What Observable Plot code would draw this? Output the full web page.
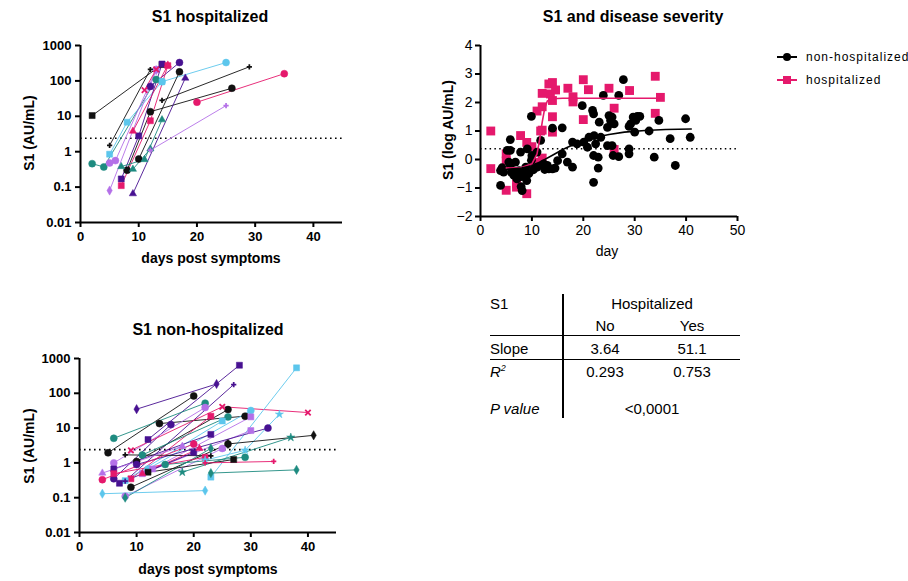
<!DOCTYPE html>
<html><head><meta charset="utf-8">
<script src="https://cdn.jsdelivr.net/npm/d3@7"></script>
<script src="https://cdn.jsdelivr.net/npm/@observablehq/plot@0.6"></script>
<style>
body{margin:0;background:#fff;}
#root{position:relative;width:908px;height:581px;overflow:hidden;font-family:"Liberation Sans",Arial,Helvetica,sans-serif;color:#000;}
#root svg{position:absolute;overflow:visible;}
</style></head><body><div id="root"></div>
<script>
// ---------- DATA ----------
// Hospitalized subjects: [id, colour, symbol]
const hospSeries = [
 ["h1","black","square"],["h2","black","cross"],["h3","cyan","square"],["h4","cyan","circle"],
 ["h5","teal","circle"],["h6","lpurple","circle"],["h7","lpurple","diamond"],["h8","dpurple","square"],
 ["h9","dpurple","circle"],["h10","pink","square"],["h11","pink","triangle"],["h12","pink","times"],
 ["h13","black","circle"],["h14","black","circle"],["h15","dpurple","triangle"],["h16","teal","triangle"],
 ["h17","teal","triangle"],["h18","pink","circle"],["h19","black","cross"],["h20","lpurple","cross"]
];
// [id, day, S1 AU/mL]
const hospPoints = [
 ["h1",2,10.5],["h1",14,290],
 ["h2",5,1.5],["h2",12,210],
 ["h3",5,0.85],["h3",8,6.8],["h3",14,95],
 ["h4",14,95],["h4",25,330],
 ["h5",2,0.46],["h5",4,0.37],["h5",13,110],
 ["h6",5,0.48],["h6",6,0.56],["h6",13,210],
 ["h7",5,0.08],["h7",13,200],
 ["h8",7,0.17],["h8",10,2.8],["h8",14,300],
 ["h9",12,70],["h9",17,330],
 ["h10",7,0.11],["h10",12,7.5],["h10",15,270],
 ["h11",9,3.8],["h11",15,280],
 ["h12",11,55],["h12",13,210],
 ["h13",8,0.3],["h13",12,13.5],["h13",26,62],
 ["h14",10,0.62],["h14",17,180],
 ["h15",9,0.065],["h15",18,120],
 ["h16",7,0.38],["h16",11,0.6],["h16",14,8],
 ["h17",9,0.32],["h17",12,1.2],
 ["h18",20,25],["h18",35,160],
 ["h19",14,28],["h19",29,250],
 ["h20",12,1.1],["h20",25,20]
];
// Non-hospitalized subjects
const nonHospSeries = [
 ["n1","dpurple","square"],["n2","dpurple","diamond"],["n3","dpurple","cross"],["n4","black","circle"],
 ["n5","teal","circle"],["n6","black","circle"],["n7","dpurple","circle"],["n8","lpurple","circle"],
 ["n9","pink","times"],["n10","black","circle"],["n11","cyan","circle"],["n12","pink","square"],
 ["n13","teal","circle"],["n14","lpurple","square"],["n15","cyan","square"],["n16","cyan","star"],
 ["n17","cyan","square"],["n18","lpurple","square"],["n19","dpurple","circle"],["n20","dpurple","square"],
 ["n21","black","diamond"],["n22","black","circle"],["n23","teal","star"],["n24","lpurple","circle"],
 ["n25","teal","diamond"],["n26","teal","circle"],["n27","black","square"],["n28","pink","square"],
 ["n29","black","cross"],["n30","pink","cross"],["n31","teal","diamond"],["n32","cyan","diamond"],
 ["n33","pink","circle"],["n34","lpurple","triangle"],["n35","pink","triangle"],["n36","dpurple","square"]
];
const nonHospPoints = [
 ["n1",12,4.7],["n1",28,640],
 ["n2",10,35],["n2",24,185],
 ["n3",8,0.3],["n3",27,178],
 ["n4",5,1.95],["n4",20,84],
 ["n5",6,5.1],["n5",22,52],
 ["n6",14,13.5],["n6",29,22],
 ["n7",6,0.35],["n7",16,12.6],
 ["n8",6,1.0],["n8",22,39],
 ["n9",9,2.3],["n9",25,41],["n9",40,28],
 ["n10",10,1.1],["n10",26,34],
 ["n11",12,0.67],["n11",30,32],
 ["n12",9,0.35],["n12",23,22],
 ["n13",11,1.7],["n13",26,21],
 ["n14",12.8,0.67],["n14",30,21],
 ["n15",8,0.31],["n15",25,16],
 ["n16",22,1.2],["n16",29,2.3],["n16",35,25],
 ["n17",23,0.39],["n17",38,540],
 ["n18",11,0.49],["n18",30,8.5],
 ["n19",10,0.9],["n19",33,10],
 ["n20",6,0.67],["n20",23,6.6],
 ["n21",26,3.5],["n21",41,6.2],
 ["n22",9,0.2],["n22",26,3.5],
 ["n23",18,0.54],["n23",37,5.4],
 ["n24",8,0.11],["n24",25,2.6],
 ["n25",8,0.1],["n25",23,2.6],
 ["n26",15,0.9],["n26",29,1.45],
 ["n27",12,0.54],["n27",27,1.25],
 ["n28",6,0.49],["n28",22,1.45],
 ["n29",8,1.7],["n29",23,1.6],
 ["n30",22,1.0],["n30",34,1.1],
 ["n31",23,0.51],["n31",38,0.63],
 ["n32",4,0.13],["n32",22,0.16],
 ["n33",4,0.33],["n33",20,3.5],
 ["n34",4,0.51],["n34",18,3],
 ["n35",11,0.49],["n35",21,2.6],
 ["n36",7,0.26],["n36",20,2]
];
const cutoffAU = 2.4;      // dotted positivity line (AU/mL)
const cutoffLog = 0.38;    // dotted line on log panel
// Disease severity panel: [day, log S1]
const hospScatter = [
 [2,1.0],[2,-0.32],[5,0.2],[5,-0.05],[5,-1.08],[7,-0.85],[7,-0.97],[7.8,0.84],[9,0.6],[9,-1.2],
 [10,0.45],[10.4,-0.2],[11,-0.1],[11,1.7],[11.7,1.0],[12,0.05],[12,1.03],[12,1.85],[12,2.32],[13.3,2.65],
 [13.6,2.3],[14,2.07],[14,1.5],[14,0.96],[14,2.7],[14.6,2.44],[17,2.5],[18,2.2],[18,2.02],[20,2.8],
 [20,1.4],[21,2.45],[25,2.5],[26,1.8],[26,0.35],[29,2.42],[34,2.92],[34,1.62],[35,2.18]
];
const nonHospScatter = [
 [3.9,-0.91],[3.9,-0.39],[4.2,-0.29],[4.5,-0.44],[5.2,0.32],[5.5,-0.09],[5.8,0.7],[5.8,0.32],[5.8,-0.21],[6.2,-0.39],
 [6.5,-0.56],[6.8,-0.09],[7.1,-0.68],[7.5,-0.39],[7.8,0.26],[7.9,-0.95],[8.1,-1.09],[8.4,-0.5],[8.8,-0.27],[9,-0.74],
 [9.1,0.37],[9.4,-0.5],[9.9,1.51],[9.9,-0.03],[10,0.14],[10.3,-0.36],[11,0.26],[11,-0.27],[11.7,0.67],[12,-0.21],
 [12.3,-0.15],[13,-0.21],[13.3,-0.33],[14,1.1],[14,-0.33],[15,-0.04],[15.9,0.2],[15.9,1.11],[16.9,-0.09],[17.9,-0.27],
 [17.9,0.61],[18.8,0.55],[19.8,1.89],[20.1,0.61],[20.8,0.43],[21.1,0.78],[21.8,1.72],[22,1.6],[22,0.14],[22,-0.8],
 [22.1,0.84],[22.4,0.55],[22.9,-0.3],[22.9,0.08],[23.1,1.31],[23.4,0.78],[23.9,2.25],[24.7,1.13],[24.7,0.49],[25,1.54],
 [25.3,1.37],[25.6,1.49],[25.6,0.49],[25.8,0.14],[26,1.25],[26.9,0.1],[26.9,2.25],[27.8,2.8],[28.9,1.16],[28.9,0.37],
 [28.9,0.2],[29.2,1.25],[29.7,1.49],[30,0.96],[30.2,1.37],[30.5,1.51],[31,1.51],[32.8,1.0],[33.8,0.08],[34.7,1.37],
 [36.9,0.73],[37.9,-0.21],[39.9,1.43],[40.8,0.78],[8,-0.6],[6,-0.45],[12.5,-0.35],[14.5,-0.3]
];
// Fitted curves
const hospFit = [[5,-0.3],[8,-0.28],[10,-0.15],[11,0.2],[11.5,0.7],[12,1.3],[12.5,1.8],[13,2.05],[14,2.13],[16,2.15],[35,2.15]];
const nonHospFit = [[5,-0.35],[8,-0.3],[10,-0.22],[12,-0.05],[14,0.15],[16,0.35],[18,0.52],[20,0.65],[22,0.76],[25,0.88],[28,0.96],[32,1.02],[36,1.05],[41,1.07]];
// Tick labels
const logTicks = [0.01,0.1,1,10,100,1000];
const dayTicks = [0,10,20,30,40];
const sevXTicks = [0,10,20,30,40,50];
const sevYTicks = [-2,-1,0,1,2,3,4];
// Table
const tableCols = ["No","Yes"];
const slopeVals = ["3.64","51.1"];
const r2Vals = ["0.293","0.753"];
const pValue = "<0,0001";

// ---------- DRAWING ----------
const COLORS = {black:"#111111", pink:"#E5196C", dpurple:"#471191", lpurple:"#B470E8", cyan:"#5CC6EC", teal:"#1E8B80"};
const SYMBOL_R = {circle:3.5, square:3.4, diamond:2.8, triangle:2.7, star:2.6, times:2.6, cross:2.2};
const FONT = '"Liberation Sans", Arial, Helvetica, sans-serif';
const root = document.getElementById("root");

function put(svg, left, top){ svg.style.left = left+"px"; svg.style.top = top+"px"; root.appendChild(svg); }
function text(t, x, y, o={}){
  const d = document.createElement("div");
  d.textContent = t;
  d.style.cssText = `position:absolute;left:${x}px;top:${y}px;transform:translate(-50%,-50%)${o.rotate?" rotate(-90deg)":""};font-size:${o.size||14}px;font-weight:${o.bold===false?"normal":"bold"};white-space:nowrap;line-height:1;font-style:${o.italic?"italic":"normal"};letter-spacing:${o.ls||0}px;font-family:${FONT}`;
  root.appendChild(d); return d;
}

function logPanel(points, series, dims){
  const st = new Map(series.map(([id,c,s]) => [id,{c:COLORS[c], s}]));
  const rows = points.map(([id,day,v]) => ({id, day, v, color: st.get(id).c, symbol: st.get(id).s}));
  const dotMarks = Object.keys(SYMBOL_R).map(sym => {
    const strokeOnly = sym === "times";
    return Plot.dot(rows, {filter: d => d.symbol === sym, x: "day", y: "v", symbol: "symbol",
      fill: strokeOnly ? "none" : "color",
      stroke: sym === "cross" ? null : "color", strokeWidth: strokeOnly ? 1.8 : 0.5, r: SYMBOL_R[sym]});
  });
  return Plot.plot({
    width: dims.w, height: dims.h, marginLeft: dims.ml, marginRight: dims.mr, marginTop: dims.mt, marginBottom: dims.mb,
    style: {fontFamily: FONT, background: "transparent", color: "#000", overflow: "visible"},
    x: {domain: [0,45]},
    y: {type: "log", domain: [0.01,1000]},
    color: {type: "identity"},
    symbol: {type: "identity"},
    marks: [
      Plot.ruleY([cutoffAU], {stroke: "#000", strokeWidth: 1.6, strokeDasharray: "1.6,3.4"}),
      Plot.line(rows, {x: "day", y: "v", z: "id", stroke: "color", strokeWidth: 0.9}),
      ...dotMarks,
      Plot.ruleX([0], {strokeWidth: 2}),
      Plot.ruleY([0.01], {strokeWidth: 2}),
      Plot.axisX({ticks: dayTicks, tickSize: 5, strokeWidth: 2, fontSize: 13, fontWeight: "bold", tickPadding: 4, label: null}),
      Plot.axisY({ticks: logTicks, tickFormat: d3.format("~g"), tickSize: 5, strokeWidth: 2, fontSize: 13, fontWeight: "bold", tickPadding: 4, label: null})
    ]
  });
}

// Top-left: hospitalized
put(logPanel(hospPoints, hospSeries, {w: 360, h: 250, ml: 80, mr: 18, mt: 45, mb: 28}), 0, 0);
text("S1 hospitalized", 210, 17, {size: 16});
text("S1 (AU/mL)", 29, 133, {rotate: true, size: 14});
text("days post symptoms", 211, 258, {size: 14});

// Bottom-left: non-hospitalized
put(logPanel(nonHospPoints, nonHospSeries, {w: 360, h: 250, ml: 79, mr: 24, mt: 48, mb: 28}), 0, 310);
text("S1 non-hospitalized", 208, 330, {size: 16});
text("S1 (AU/mL)", 29, 446, {rotate: true, size: 14});
text("days post symptoms", 208, 569, {size: 14});

// Top-right: disease severity
const sev = Plot.plot({
  width: 330, height: 250, marginLeft: 60, marginRight: 13, marginTop: 45, marginBottom: 34,
  style: {fontFamily: FONT, background: "transparent", color: "#000", overflow: "visible"},
  x: {domain: [0,50]},
  y: {domain: [-2,4]},
  marks: [
    Plot.ruleY([cutoffLog], {stroke: "#000", strokeWidth: 1.5, strokeDasharray: "1.5,3.3"}),
    Plot.dot(hospScatter, {x: d => d[0], y: d => d[1], symbol: "square", fill: COLORS.pink, r: 5}),
    Plot.dot(nonHospScatter, {x: d => d[0], y: d => d[1], fill: "#000", r: 4.4}),
    Plot.line(hospFit, {x: d => d[0], y: d => d[1], stroke: COLORS.pink, strokeWidth: 1.6}),
    Plot.line(nonHospFit, {x: d => d[0], y: d => d[1], stroke: "#000", strokeWidth: 1.6}),
    Plot.ruleX([0], {strokeWidth: 2}),
    Plot.ruleY([-2], {strokeWidth: 2}),
    Plot.axisX({ticks: sevXTicks, tickFormat: d3.format("d"), tickSize: 5, strokeWidth: 2, fontSize: 14, tickPadding: 4, label: null}),
    Plot.axisY({ticks: sevYTicks, tickFormat: d3.format("d"), tickSize: 5, strokeWidth: 2, fontSize: 14, tickPadding: 3, label: null})
  ]
});
put(sev, 420, 0);
text("S1 and disease severity", 633, 17, {size: 16});
text("S1 (log AU/mL)", 448, 130, {rotate: true, size: 14});
text("day", 607, 251, {size: 14, bold: false});

// Legend
function legendRow(color, shape, label, y){
  const ns = "http://www.w3.org/2000/svg";
  const s = document.createElementNS(ns, "svg");
  s.setAttribute("width", 22); s.setAttribute("height", 12);
  s.style.left = "776px"; s.style.top = (y-6)+"px";
  const l = document.createElementNS(ns, "line");
  l.setAttribute("x1", 1); l.setAttribute("x2", 21); l.setAttribute("y1", 6); l.setAttribute("y2", 6);
  l.setAttribute("stroke", color); l.setAttribute("stroke-width", 2);
  s.appendChild(l);
  if (shape === "circle") { const c = document.createElementNS(ns, "circle"); c.setAttribute("cx", 11); c.setAttribute("cy", 6); c.setAttribute("r", 4); c.setAttribute("fill", color); s.appendChild(c); }
  else { const r = document.createElementNS(ns, "rect"); r.setAttribute("x", 7); r.setAttribute("y", 2); r.setAttribute("width", 8); r.setAttribute("height", 8); r.setAttribute("fill", color); s.appendChild(r); }
  root.appendChild(s);
  const t = text(label, 0, y, {size: 12, bold: false, ls: 1});
  t.style.transform = "translate(0,-50%)"; t.style.left = "806px";
}
legendRow("#000", "circle", "non-hospitalized", 57);
legendRow(COLORS.pink, "square", "hospitalized", 80);

// Table
function hline(x1, x2, y){ const d = document.createElement("div"); d.style.cssText = `position:absolute;left:${x1}px;top:${y}px;width:${x2-x1}px;height:1px;background:#000`; root.appendChild(d); }
function vline(x, y1, y2){ const d = document.createElement("div"); d.style.cssText = `position:absolute;left:${x}px;top:${y1}px;width:2px;height:${y2-y1}px;background:#000`; root.appendChild(d); }
const colX = [605, 692];
function leftText(t, x, y, o){ const d = text(t, x, y, o); d.style.transform = "translate(0,-50%)"; return d; }
leftText("S1", 490, 303, {size: 15, bold: false});
text("Hospitalized", 652, 303, {size: 15, bold: false});
tableCols.forEach((c,i) => text(c, colX[i], 325, {size: 15, bold: false}));
hline(490, 740, 335);
leftText("Slope", 490, 348, {size: 15, bold: false});
slopeVals.forEach((c,i) => text(c, colX[i], 348, {size: 15, bold: false}));
hline(490, 740, 359);
const r2 = leftText("R", 490, 371, {size: 15, bold: false, italic: true});
const sup = document.createElement("sup"); sup.textContent = "2"; sup.style.fontSize = "9px"; r2.appendChild(sup);
r2Vals.forEach((c,i) => text(c, colX[i], 371, {size: 15, bold: false}));
leftText("P value", 490, 408, {size: 15, bold: false, italic: true});
text(pValue, 652, 408, {size: 15, bold: false});
vline(562, 294, 418);
</script></body></html>
